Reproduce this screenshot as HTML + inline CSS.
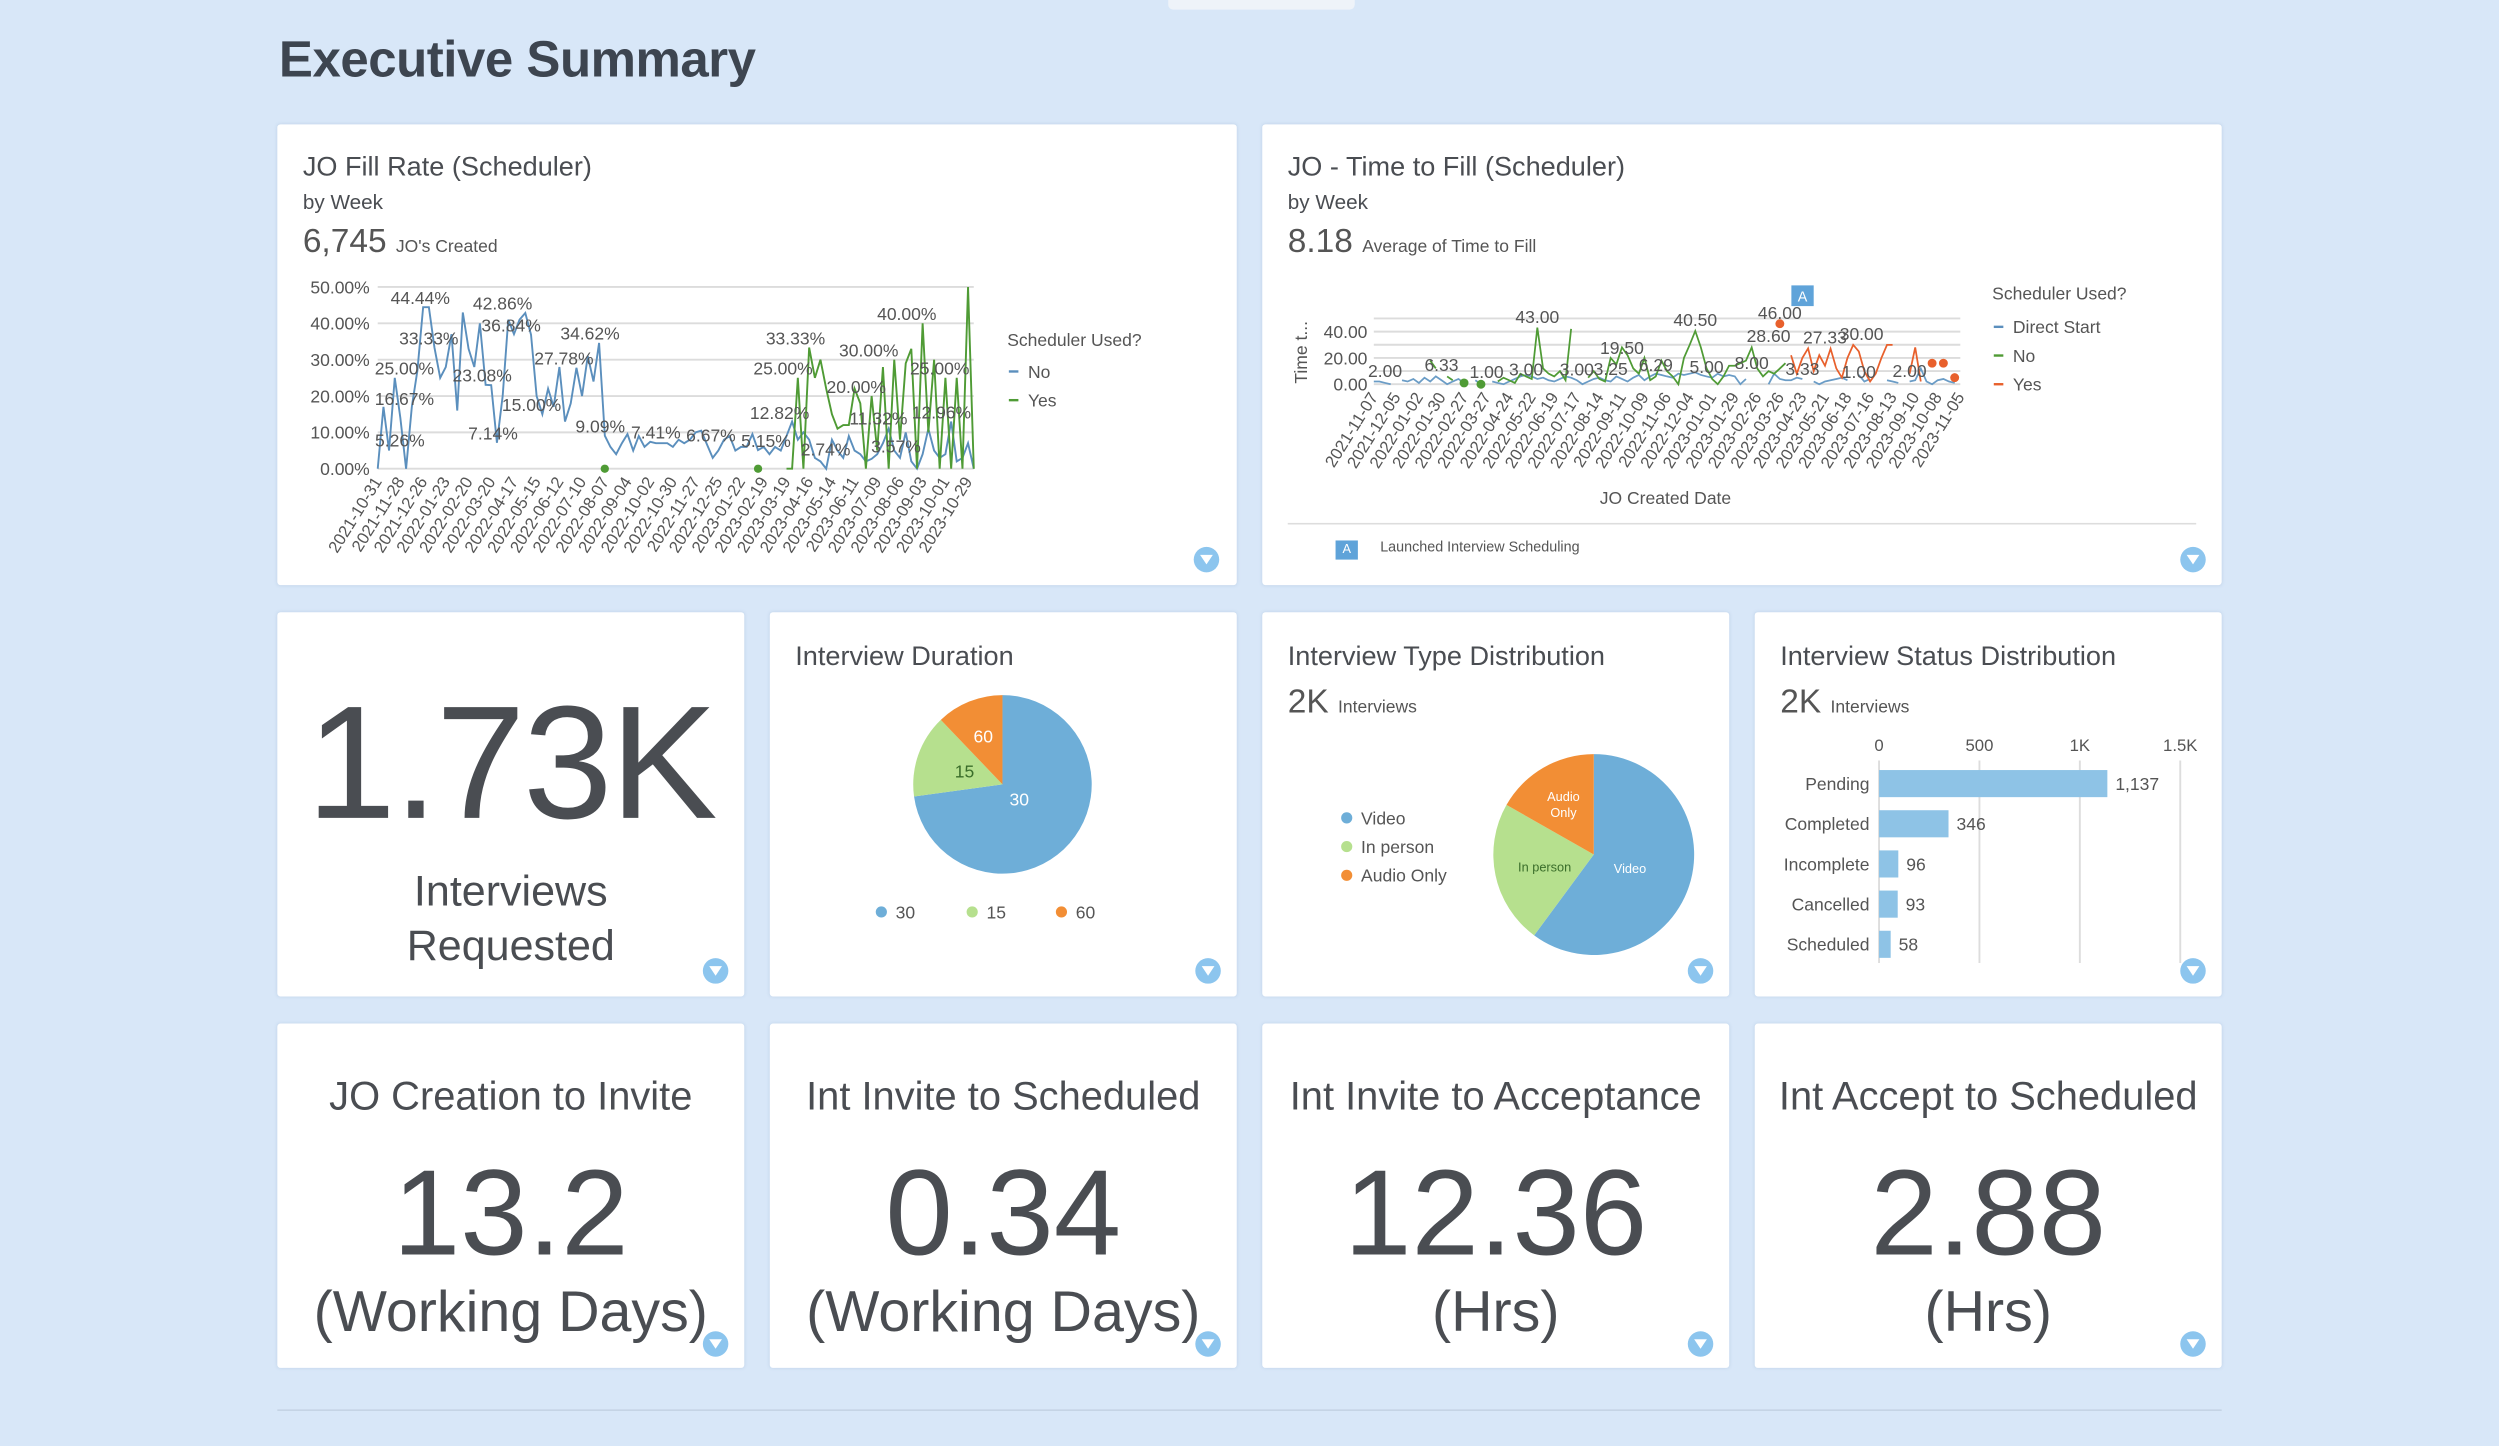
<!DOCTYPE html>
<html><head><meta charset="utf-8">
<style>
html,body{margin:0;padding:0;width:2499px;height:1446px;overflow:hidden;background:#d8e7f8;}
#root{position:absolute;left:0;top:0;width:1568px;height:907px;transform:scale(1.59375,1.5943);transform-origin:0 0;font-family:"Liberation Sans",sans-serif;color:#444;}
.card{position:absolute;background:#fff;border-radius:2px;box-shadow:0 0 2px rgba(120,150,190,.25);}
.t{position:absolute;white-space:nowrap;color:#4a4d52;}
.c{position:absolute;left:0;width:100%;text-align:center;white-space:nowrap;color:#4a4d52;}
.filt{position:absolute;width:16px;height:16px;border-radius:50%;background:#8cc5ee;}
.filt:after{content:"";position:absolute;left:4px;top:5px;border-left:4px solid transparent;border-right:4px solid transparent;border-top:6px solid #fff;}
#charts{position:absolute;left:0;top:0;pointer-events:none;}
</style></head><body>
<div id="root">
<div style="position:absolute;left:733px;top:-4px;width:117px;height:10px;background:#eef3f9;border-radius:3px;"></div>
<div class="t" style="left:175px;top:19px;font-size:32px;font-weight:bold;color:#3d4550;letter-spacing:-0.3px;">Executive Summary</div>

<div class="card" style="left:174px;top:78px;width:602px;height:289px;">
 <div class="t" style="left:16px;top:17px;font-size:17px;">JO Fill Rate (Scheduler)</div>
 <div class="t" style="left:16px;top:41px;font-size:13px;">by Week</div>
 <div class="t" style="left:16px;top:62px;font-size:21px;color:#555;">6,745 <span style="font-size:11px;">JO's Created</span></div>
 <div class="filt" style="left:575px;top:265px;"></div>
</div>
<div class="card" style="left:792px;top:78px;width:602px;height:289px;">
 <div class="t" style="left:16px;top:17px;font-size:17px;">JO - Time to Fill (Scheduler)</div>
 <div class="t" style="left:16px;top:41px;font-size:13px;">by Week</div>
 <div class="t" style="left:16px;top:62px;font-size:21px;color:#555;">8.18 <span style="font-size:11px;">Average of Time to Fill</span></div>
 <div style="position:absolute;left:16px;top:250px;width:570px;height:1px;background:#ddd;"></div>
 <div style="position:absolute;left:46px;top:261px;width:14px;height:12px;background:#5fa3d9;color:#fff;font-size:8px;text-align:center;line-height:12px;">A</div>
 <div class="t" style="left:74px;top:260px;font-size:9px;color:#555;">Launched Interview Scheduling</div>
 <div class="filt" style="left:576px;top:265px;"></div>
</div>

<div class="card" style="left:174px;top:384px;width:293px;height:241px;">
 <div class="c" style="top:38px;font-size:101px;letter-spacing:-1.5px;">1.73K</div>
 <div class="c" style="top:158px;font-size:27px;line-height:34px;">Interviews<br>Requested</div>
 <div class="filt" style="left:267px;top:217px;"></div>
</div>
<div class="card" style="left:483px;top:384px;width:293px;height:241px;">
 <div class="t" style="left:16px;top:18px;font-size:17px;">Interview Duration</div>
 <div class="filt" style="left:267px;top:217px;"></div>
</div>
<div class="card" style="left:792px;top:384px;width:293px;height:241px;">
 <div class="t" style="left:16px;top:18px;font-size:17px;">Interview Type Distribution</div>
 <div class="t" style="left:16px;top:45px;font-size:21px;color:#555;">2K <span style="font-size:11px;">Interviews</span></div>
 <div class="filt" style="left:267px;top:217px;"></div>
</div>
<div class="card" style="left:1101px;top:384px;width:293px;height:241px;">
 <div class="t" style="left:16px;top:18px;font-size:17px;">Interview Status Distribution</div>
 <div class="t" style="left:16px;top:45px;font-size:21px;color:#555;">2K <span style="font-size:11px;">Interviews</span></div>
 <div class="filt" style="left:267px;top:217px;"></div>
</div>

<div class="card" style="left:174px;top:642px;width:293px;height:216px;">
 <div class="c" style="top:32px;font-size:25px;">JO Creation to Invite</div>
 <div class="c" style="top:76px;font-size:76px;">13.2</div>
 <div class="c" style="top:160px;font-size:36px;">(Working Days)</div>
 <div class="filt" style="left:267px;top:193px;"></div>
</div>
<div class="card" style="left:483px;top:642px;width:293px;height:216px;">
 <div class="c" style="top:32px;font-size:25px;">Int Invite to Scheduled</div>
 <div class="c" style="top:76px;font-size:76px;">0.34</div>
 <div class="c" style="top:160px;font-size:36px;">(Working Days)</div>
 <div class="filt" style="left:267px;top:193px;"></div>
</div>
<div class="card" style="left:792px;top:642px;width:293px;height:216px;">
 <div class="c" style="top:32px;font-size:25px;">Int Invite to Acceptance</div>
 <div class="c" style="top:76px;font-size:76px;">12.36</div>
 <div class="c" style="top:160px;font-size:36px;">(Hrs)</div>
 <div class="filt" style="left:267px;top:193px;"></div>
</div>
<div class="card" style="left:1101px;top:642px;width:293px;height:216px;">
 <div class="c" style="top:32px;font-size:25px;">Int Accept to Scheduled</div>
 <div class="c" style="top:76px;font-size:76px;">2.88</div>
 <div class="c" style="top:160px;font-size:36px;">(Hrs)</div>
 <div class="filt" style="left:267px;top:193px;"></div>
</div>
<div style="position:absolute;left:174px;top:884px;width:1220px;height:1px;background:#c4d3e4;"></div>

<svg id="charts" width="1568" height="907" xmlns="http://www.w3.org/2000/svg" font-family="Liberation Sans, sans-serif"></svg>
</div>
<script>
// ---------- Chart 1: JO Fill Rate ----------
const fillTickLabels = ["2021-10-31","2021-11-28","2021-12-26","2022-01-23","2022-02-20","2022-03-20","2022-04-17","2022-05-15","2022-06-12","2022-07-10","2022-08-07","2022-09-04","2022-10-02","2022-10-30","2022-11-27","2022-12-25","2023-01-22","2023-02-19","2023-03-19","2023-04-16","2023-05-14","2023-06-11","2023-07-09","2023-08-06","2023-09-03","2023-10-01","2023-10-29"];
const fillYTicks = [0,10,20,30,40,50];
const fillNo = [0,17,5,25,14,0,17,27,44.44,44.44,33.33,25,28,37,16,43,33,28,40,23.08,23,7.14,20,41,37,41,42.86,36.84,20,15,22,17,28,13,18,27.78,20,31,24,34.62,9.09,6,4,7,9.5,5,9,6,7.41,7,7,7,6,8,7,8,10,10.5,6.67,3,5,8,9,5,6,6,9.5,5.15,6,4,6,5,9,13,8,10,8,3,2,0,8,5,3,9,5,4,2,2.74,4,7,11,5,3,10,2,0,4,11,5,3,4,13,2,3,7,0];
const fillYes = [null,null,null,null,null,null,null,null,null,null,null,null,null,null,null,null,null,null,null,null,null,null,null,null,null,null,null,null,null,null,null,null,null,null,null,null,null,null,null,null,0,null,null,null,null,null,null,null,null,null,null,null,null,null,null,null,null,null,null,null,null,null,null,null,null,null,null,0,null,null,null,null,0,0,25,0,33.33,25,30,22,15,11,12,12,22,18,0,20,5,28,0,30,8,29,33,0,40,10,30,0,25,0,25,0,50,0];
// data labels: [week index, value]
const fillLabelIdx = [7.5,9,4.7,4.7,3.9,22,23.5,18.4,20.3,37.4,32.8,27.1,39.2,49,58.7,68.4,73.6,71.4,70.8,78.9,93.2,86.5,84.3,88.2,91.3,99,99.3];
const fillLabelVals = [44.44,33.33,25.00,16.67,5.26,42.86,36.84,23.08,7.14,34.62,27.78,15.00,9.09,7.41,6.67,5.15,33.33,25.00,12.82,2.74,40.00,30.00,20.00,11.32,3.57,25.00,12.96];

// ---------- Chart 2: Time to Fill ----------
const ttfTickLabels = ["2021-11-07","2021-12-05","2022-01-02","2022-01-30","2022-02-27","2022-03-27","2022-04-24","2022-05-22","2022-06-19","2022-07-17","2022-08-14","2022-09-11","2022-10-09","2022-11-06","2022-12-04","2023-01-01","2023-01-29","2023-02-26","2023-03-26","2023-04-23","2023-05-21","2023-06-18","2023-07-16","2023-08-13","2023-09-10","2023-10-08","2023-11-05"];
const ttfYTicks = [0,10,20,30,40,50];
const ttfDirect = [2,2,1,0,null,3,2,4,1,5,2,6,3,0,2,4,1,null,3,0,null,2,1,0,2,4,6,7,6,4,5,3,2,4,6,5,3,0,2,4,5,3,2,6,4,2,5,7,3,6,8,7,6,5,8,7,8,9,7,6,5,8,6,7,6,0,4,null,null,null,0,8,4,3,3,5,4,null,2,0,2,3,4,5,3,null,7,2,4,null,null,3,2,1,null,2,3,12,2,0,3,4,2,1,null];
const ttfNo = [null,null,null,null,null,null,null,null,null,null,18,12,null,6,3,null,1,null,null,0,null,null,2,5,3,1,8,6,4,43,12,8,6,10,3,42,null,null,5,10,4,2,20,15,28,22,12,8,20,3,6,18,10,6,0,20,30,40.5,28,12,4,0,6,14,14,16,18,28,12,6,10,8,12,16,null];
const ttfYes = [null,null,null,null,null,null,null,null,null,null,null,null,null,null,null,null,null,null,null,null,null,null,null,null,null,null,null,null,null,null,null,null,null,null,null,null,null,null,null,null,null,null,null,null,null,null,null,null,null,null,null,null,null,null,null,null,null,null,null,null,null,null,null,null,null,null,null,null,null,null,null,null,46,null,22,8,20,27.33,10,22,14,27,12,5,20,30,25,10,2,8,20,30,30,null,null,8,28,2,null,16,null,16,null,5,null];
const ttfLabels = [[2,"2.00"],[12,"6.33"],[20,"1.00"],[27,"3.00"],[29,"43.00"],[36,"3.00"],[44,"19.50"],[42,"3.25"],[50,"6.29"],[57,"40.50"],[59,"5.00"],[67,"8.00"],[70,"28.60"],[72,"46.00"],[76,"3.33"],[80,"27.33"],[86,"1.00"],[86.5,"30.00"],[95,"2.00"]];

// ---------- Pies & bars ----------
const durCats = ["30","15","60"];
const durVals = [1260,260,210];
const typeCats = ["Video","In person","Audio Only"];
const typeVals = [1040,400,290];
const statusCats = ["Pending","Completed","Incomplete","Cancelled","Scheduled"];
const statusVals = [1137,346,96,93,58];
const statusTicks = [0,500,1000,1500];
const statusTickLabels = ["0","500","1K","1.5K"];

const NS="http://www.w3.org/2000/svg";
const svg=document.getElementById('charts');
function mk(tag,attrs,parent,text){const e=document.createElementNS(NS,tag);for(const k in attrs)e.setAttribute(k,attrs[k]);if(text!==undefined)e.textContent=text;(parent||svg).appendChild(e);return e;}
function linePath(vals,xf,yf){let d="",pen=false;vals.forEach((v,i)=>{if(v===null||v===undefined){pen=false;return;}d+=(pen?"L":"M")+xf(i).toFixed(1)+" "+yf(v).toFixed(1)+" ";pen=true;});return d;}
function isolated(vals,i){return vals[i]!==null&&(i===0||vals[i-1]===null)&&(i===vals.length-1||vals[i+1]===null);}

// Chart 1
(function(){
 const g=mk('g',{});
 
 
 const x0=237,x1=611,y0=294,y1=180,n=fillNo.length;
 const xs=i=>x0+i*(x1-x0)/(n-1), ys=v=>y0-(v/50)*(y0-y1);
 fillYTicks.forEach(t=>{
  const l=mk('line',{x1:x0,x2:x1,y1:ys(t),y2:ys(t),stroke:'#dcdcdc','stroke-width':1.2},g);
  
  
  const tx=mk('text',{x:232,y:ys(t)+4,'font-size':11,fill:'#555','text-anchor':'end'},g,t.toFixed(2)+'%');
  
  
 });
 fillTickLabels.forEach((lab,k)=>{
  const X=xs(k*4);
  const tx=mk('text',{x:X+3,y:y0+8,'font-size':10.5,fill:'#555','text-anchor':'end',transform:`rotate(-58 ${X+3} ${y0+8})`},g,lab);
  
  
 });
 const pn=mk('path',{d:linePath(fillNo,xs,ys),fill:'none',stroke:'#5b8fbd','stroke-width':1.2},g);
 
 
 const py=mk('path',{d:linePath(fillYes,xs,ys),fill:'none',stroke:'#4f9b35','stroke-width':1.2},g);
 
 
 fillYes.forEach((v,i)=>{if(isolated(fillYes,i)){const c=mk('circle',{cx:xs(i),cy:ys(v),r:2.6,fill:'#4f9b35'},g);
  
  }});
 fillLabelIdx.forEach((i,k)=>{
  const v=fillLabelVals[k];
  const tx=mk('text',{x:xs(i),y:ys(v)-2,'font-size':11,fill:'#555','text-anchor':'middle'},g,v.toFixed(2)+'%');
  
  
 });
 const lt=mk('text',{x:632,y:217,'font-size':11,fill:'#555'},g,'Scheduler Used?');
 
 
 [['No','#5b8fbd',237],['Yes','#4f9b35',255]].forEach(([n2,c,y])=>{
  const l=mk('line',{x1:633,x2:639,y1:y-4,y2:y-4,stroke:c,'stroke-width':1.5},g);
  
  
  const t=mk('text',{x:645,y:y,'font-size':11,fill:'#555'},g,n2);
  
  
 });
})();

// Chart 2
(function(){
 const g=mk('g',{});
 
 
 const x0=862,x1=1230,y0=241,n=ttfDirect.length;
 const xs=i=>x0+i*(x1-x0)/(n-1), ys=v=>y0-v*0.825;
 ttfYTicks.forEach(t=>{
  const l=mk('line',{x1:x0,x2:x1,y1:ys(t),y2:ys(t),stroke:'#dcdcdc','stroke-width':1.2},g);
  
  
  if(t%20===0){const tx=mk('text',{x:858,y:ys(t)+4,'font-size':11,fill:'#555','text-anchor':'end'},g,t.toFixed(2));
  
  }
 });
 const at=mk('text',{x:820,y:221,'font-size':11,fill:'#555','text-anchor':'middle',transform:'rotate(-90 820 221)'},g,'Time t...');
 
 
 ttfTickLabels.forEach((lab,k)=>{
  const X=xs(k*4);
  const tx=mk('text',{x:X+3,y:y0+8,'font-size':10.5,fill:'#555','text-anchor':'end',transform:`rotate(-58 ${X+3} ${y0+8})`},g,lab);
  
  
 });
 const xt=mk('text',{x:1045,y:316,'font-size':11,fill:'#555','text-anchor':'middle'},g,'JO Created Date');
 
 
 [[ttfDirect,'#6a9cc6','series-direct-start-line'],[ttfNo,'#4f9b35','series-no-line'],[ttfYes,'#e8602c','series-yes-line']].forEach(([vals,c,nm])=>{
  const p=mk('path',{d:linePath(vals,xs,ys),fill:'none',stroke:c,'stroke-width':1.1},g);
  
  
  vals.forEach((v,i)=>{if(isolated(vals,i)){const ci=mk('circle',{cx:xs(i),cy:ys(v),r:2.8,fill:c},g);
   
   }});
 });
 ttfLabels.forEach(([i,s])=>{
  const v=parseFloat(s);
  const tx=mk('text',{x:xs(i),y:ys(v)-3,'font-size':11,fill:'#555','text-anchor':'middle'},g,s);
  
  
 });
 const ab=mk('rect',{x:1124,y:179,width:14,height:13,fill:'#5fa3d9'},g);
 
 
 const abt=mk('text',{x:1131,y:189,'font-size':9,fill:'#fff','text-anchor':'middle'},g,'A');
 
 
 const lt=mk('text',{x:1250,y:188,'font-size':11,fill:'#555'},g,'Scheduler Used?');
 
 
 [['Direct Start','#5b8fbd',209],['No','#4f9b35',227],['Yes','#e8602c',245]].forEach(([n2,c,y])=>{
  const l=mk('line',{x1:1251,x2:1257,y1:y-4,y2:y-4,stroke:c,'stroke-width':1.5},g);
  
  
  const t=mk('text',{x:1263,y:y,'font-size':11,fill:'#555'},g,n2);
  
  
 });
})();

// Pies
const pieColors=['#6eaed8','#b6e08e','#f28e35'];
function pie(cx,cy,r,vals,labels,labelFill,nm,rFrac){
 const g=mk('g',{});
 
 
 const tot=vals.reduce((a,b)=>a+b,0);
 const slices=[];
 slices.push([0,vals[0]/tot*2*Math.PI]);
 let a=0;
 for(let i=vals.length-1;i>=1;i--){const s=a-vals[i]/tot*2*Math.PI;slices[i]=[s,a];a=s;}
 slices.forEach(([s,e],i)=>{
  const p=(t)=>[cx+r*Math.sin(t),cy-r*Math.cos(t)];
  const [xa,ya]=p(s),[xb,yb]=p(e);
  const large=(e-s)>Math.PI?1:0;
  const path=mk('path',{d:`M${cx} ${cy} L${xa} ${ya} A${r} ${r} 0 ${large} 1 ${xb} ${yb} Z`,fill:pieColors[i]},g);
  
  
  const m=(s+e)/2, rr=r*rFrac[i];
  labels[i].split('\n').forEach((ln,k,arr)=>{
   const tx=mk('text',{x:cx+rr*Math.sin(m),y:cy-rr*Math.cos(m)+4+(k-(arr.length-1)/2)*10,'font-size':labelFill.size,fill:labelFill.c[i],'text-anchor':'middle'},g,ln);
   
   
  });
 });
}
pie(629,492,56,durVals,durCats,{size:11,c:['#fff','#3a6d2a','#fff']},'interview-duration-pie',[0.25,0.45,0.58]);
pie(1000,536,63,typeVals,['Video','In person','Audio\nOnly'],{size:8,c:['#fff','#3a6d2a','#fff']},'interview-type-pie',[0.38,0.5,0.6]);
durCats.forEach((c,i)=>{
 const X=[553,610,666][i];
 const d=mk('circle',{cx:X,cy:572,r:3.5,fill:pieColors[i]});
 
 
 const t=mk('text',{x:X+9,y:576,'font-size':11,fill:'#555'},svg,c);
 
 
});
typeCats.forEach((c,i)=>{
 const Y=513+i*18;
 const d=mk('circle',{cx:845,cy:Y,r:3.5,fill:pieColors[i]});
 
 
 const t=mk('text',{x:854,y:Y+4,'font-size':11,fill:'#555'},svg,c);
 
 
});

// Bars
(function(){
 const g=mk('g',{});
 
 
 const xb=v=>1179+v*0.126;
 statusTicks.forEach((t,i)=>{
  const l=mk('line',{x1:xb(t),x2:xb(t),y1:477,y2:604,stroke:'#ddd','stroke-width':1.2},g);
  
  
  const tx=mk('text',{x:xb(t),y:471,'font-size':10.5,fill:'#555','text-anchor':'middle'},g,statusTickLabels[i]);
  
  
 });
 statusCats.forEach((c,i)=>{
  const cy=491.5+i*25.2;
  const r=mk('rect',{x:1179,y:cy-8.5,width:xb(statusVals[i])-1179,height:17,fill:'#8ec3e6'},g);
  
  
  const lt=mk('text',{x:1173,y:cy+4,'font-size':11,fill:'#555','text-anchor':'end'},g,c);
  
  
  const vt=mk('text',{x:xb(statusVals[i])+5,y:cy+4,'font-size':11,fill:'#555'},g,statusVals[i].toLocaleString('en-US'));
  
  
 });
})();
</script>
</body></html>
